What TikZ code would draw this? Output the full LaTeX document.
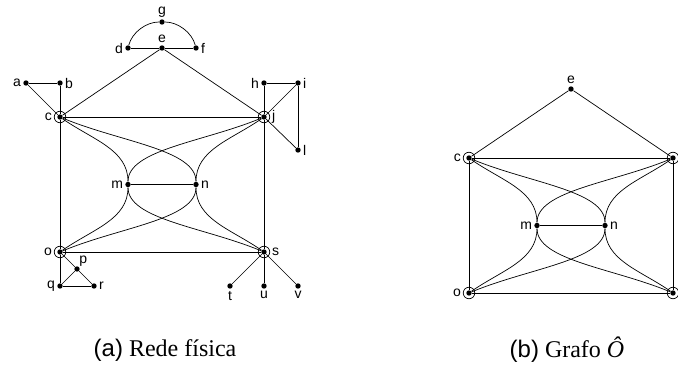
\documentclass[tikz,border=0pt]{standalone}
\usepackage{fontspec}
\setmainfont{Liberation Serif}
\setsansfont{Liberation Sans}
\begin{document}
\begin{tikzpicture}[x=1pt,y=-1pt,
  every path/.style={line width=0.7pt},
  dot/.style={circle,fill=black,inner sep=0pt,minimum size=5.4pt},
  ring/.style={circle,draw=black,line width=0.7pt,inner sep=0pt,minimum size=11.5pt},
  lbl/.style={font=\sffamily\fontsize{14}{16}\selectfont,inner sep=1pt},
  every label/.style={lbl},
  label distance=0.6pt]
\useasboundingbox (0,0) rectangle (678,374);

% ---------- (a) physical network ----------
\node[dot,label=left:a] (a) at (26,83) {};
\node[dot,label=right:b] (b) at (60,83) {};
\node[dot] (c) at (60,117) {};
\node[ring,label=left:c] (cR) at (c) {};
\node[dot,label=left:d] (d) at (128,48) {};
\node[dot,label=above:e] (e) at (162,48) {};
\node[dot,label=right:f] (f) at (196,48) {};
\node[dot,label=above:g] (g) at (162,22) {};
\node[dot,label=left:h] (h) at (264,83) {};
\node[dot,label=right:i] (i) at (298,83) {};
\node[dot] (j) at (264,117) {};
\node[ring,label=right:j] (jR) at (j) {};
\node[dot,label=right:l] (l) at (298,150) {};
\node[dot,label=left:m] (m) at (128,184.5) {};
\node[dot,label=right:n] (n) at (196,184.5) {};
\node[dot] (o) at (60,252) {};
\node[ring,label=left:o] (oR) at (o) {};
\node[dot,label={[label distance=-1.5pt]above right:p}] (p) at (77,269) {};
\node[dot,label=left:q] (q) at (60,286) {};
\node[dot,label=right:r] (r) at (94,286) {};
\node[dot] (s) at (264,252) {};
\node[ring,label=right:s] (sR) at (s) {};
\node[dot,label=below:t] (t) at (230,286) {};
\node[dot,label=below:u] (u) at (264,286) {};
\node[dot,label=below:v] (v) at (298,286) {};

\draw (d) -- (e) -- (f);
\draw (d) .. controls +(4.1,-15.5) and +(-16,0) .. (g)
          .. controls +(16,0) and +(-4.1,-15.5) .. (f);
\draw (e) -- (c);
\draw (e) -- (j);
\draw (a) -- (b);
\draw (a) -- (c);
\draw (b) -- (c);
\draw (h) -- (i);
\draw (h) -- (j);
\draw (i) -- (j);
\draw (i) -- (l);
\draw (j) -- (l);
\draw (c) -- (j);
\draw (c) -- (o);
\draw (j) -- (s);
\draw (o) -- (s);
\draw (m) -- (n);
\draw (o) -- (q);
\draw (o) -- (p);
\draw (p) -- (r);
\draw (q) -- (p);
\draw (q) -- (r);
\draw (s) -- (t);
\draw (s) -- (u);
\draw (s) -- (v);
\draw (c) .. controls +(33,23) and +(0,-35) .. (m);
\draw (m) .. controls +(0,35) and +(33,-23) .. (o);
\draw (c) .. controls +(60,25) and +(0,-35) .. (n);
\draw (n) .. controls +(0,35) and +(60,-25) .. (o);
\draw (j) .. controls +(-33,23) and +(0,-35) .. (n);
\draw (n) .. controls +(0,35) and +(-33,-23) .. (s);
\draw (j) .. controls +(-60,25) and +(0,-35) .. (m);
\draw (m) .. controls +(0,35) and +(-60,-25) .. (s);

% ---------- (b) graph O-hat ----------
\node[dot,label=above:e] (e2) at (571,89) {};
\node[dot] (c2) at (469,158) {};
\node[ring,label=left:c] (c2R) at (c2) {};
\node[dot] (j2) at (673,158) {};
\node[ring] (j2R) at (j2) {};
\node[dot,label=left:m] (m2) at (537,225.5) {};
\node[dot,label=right:n] (n2) at (605,225.5) {};
\node[dot] (o2) at (469,293) {};
\node[ring,label=left:o] (o2R) at (o2) {};
\node[dot] (s2) at (673,293) {};
\node[ring] (s2R) at (s2) {};

\draw (e2) -- (c2);
\draw (e2) -- (j2);
\draw (c2) -- (j2);
\draw (c2) -- (o2);
\draw (j2) -- (s2);
\draw (o2) -- (s2);
\draw (m2) -- (n2);
\draw (c2) .. controls +(33,23) and +(0,-35) .. (m2);
\draw (m2) .. controls +(0,35) and +(33,-23) .. (o2);
\draw (c2) .. controls +(60,25) and +(0,-35) .. (n2);
\draw (n2) .. controls +(0,35) and +(60,-25) .. (o2);
\draw (j2) .. controls +(-33,23) and +(0,-35) .. (n2);
\draw (n2) .. controls +(0,35) and +(-33,-23) .. (s2);
\draw (j2) .. controls +(-60,25) and +(0,-35) .. (m2);
\draw (m2) .. controls +(0,35) and +(-60,-25) .. (s2);

% ---------- captions ----------
\node[font=\fontsize{24}{28}\selectfont,inner sep=0pt] (capA) at (165,350)
  {\textsf{(a)} Rede física};
\node[font=\fontsize{24}{28}\selectfont,inner sep=0pt] (capB) at (567,350)
  {\textsf{(b)} Grafo \textit{Ô}};
\end{tikzpicture}
\end{document}
